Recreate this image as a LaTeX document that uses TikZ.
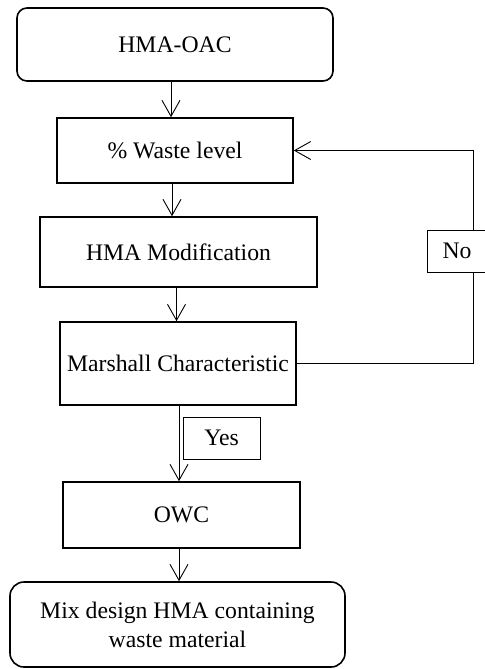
\documentclass[tikz,border=0pt]{standalone}
\usepackage{fontspec}
\setmainfont{Liberation Serif}
\newfontfamily\boxfont{Liberation Serif}
\usepackage{tikz}
\usetikzlibrary{arrows.meta, positioning, calc}

\begin{document}
\begin{tikzpicture}[x=0.5pt, y=-0.5pt,
    font=\boxfont\fontsize{11.85}{14.5}\selectfont,
    stepbox/.style={draw, line width=0.8pt, inner sep=1pt, align=center},
    endbox/.style={stepbox, rounded corners=5pt},
    tagbox/.style={draw, line width=0.45pt, fill=white, inner sep=1pt,
                   minimum width=38.5pt, minimum height=21pt},
    arr/.style={line width=0.45pt, -{Straight Barb[length=8pt, width=9pt]}}]
      \useasboundingbox (0,0) rectangle (485,669);

      % main column
      \node[endbox, minimum width=158pt, minimum height=36.5pt] (oac) at (175,44.5) {HMA-OAC};
      \node[stepbox, minimum width=118pt, minimum height=32.5pt] (waste) at (175,150.5) {\% Waste level};
      \node[stepbox, minimum width=138.5pt, minimum height=35pt] (modif) at (178.5,252) {HMA Modification};
      \node[stepbox, minimum width=118pt, minimum height=41.5pt] (marsh) at (178,363.5) {Marshall Characteristic};
      \node[stepbox, minimum width=118.5pt, minimum height=33pt] (owc) at (181.5,515) {OWC};
      \node[endbox, rounded corners=7pt, minimum width=167.5pt, minimum height=42.5pt] (mix) at (177.5,624.5)
           {Mix design HMA containing\\waste material};

      \draw[arr] ([xshift=-2pt]oac.south) -- ([xshift=-2pt]waste.north);
      \draw[arr] ([xshift=-1.5pt]waste.south) -- ([xshift=-1.5pt]waste.south |- modif.north);
      \draw[arr] ([xshift=-1pt]modif.south) -- ([xshift=-1pt]modif.south |- marsh.north);
      \draw[arr] ([xshift=0.5pt]marsh.south) -- ([xshift=0.5pt]marsh.south |- owc.north);
      \draw[arr] ([xshift=-1.25pt]owc.south) -- ([xshift=-1.25pt]owc.south |- mix.north);

      % loop back
      \coordinate (back) at (473,150.5);
      \draw[arr] (marsh.east) -| (back) -- (waste.east);

      \node[tagbox] (yes) at (221.5,438) {Yes};
      \node[tagbox, minimum width=30pt] (no) at (457,251) {No};
    \end{tikzpicture}
\end{document}
